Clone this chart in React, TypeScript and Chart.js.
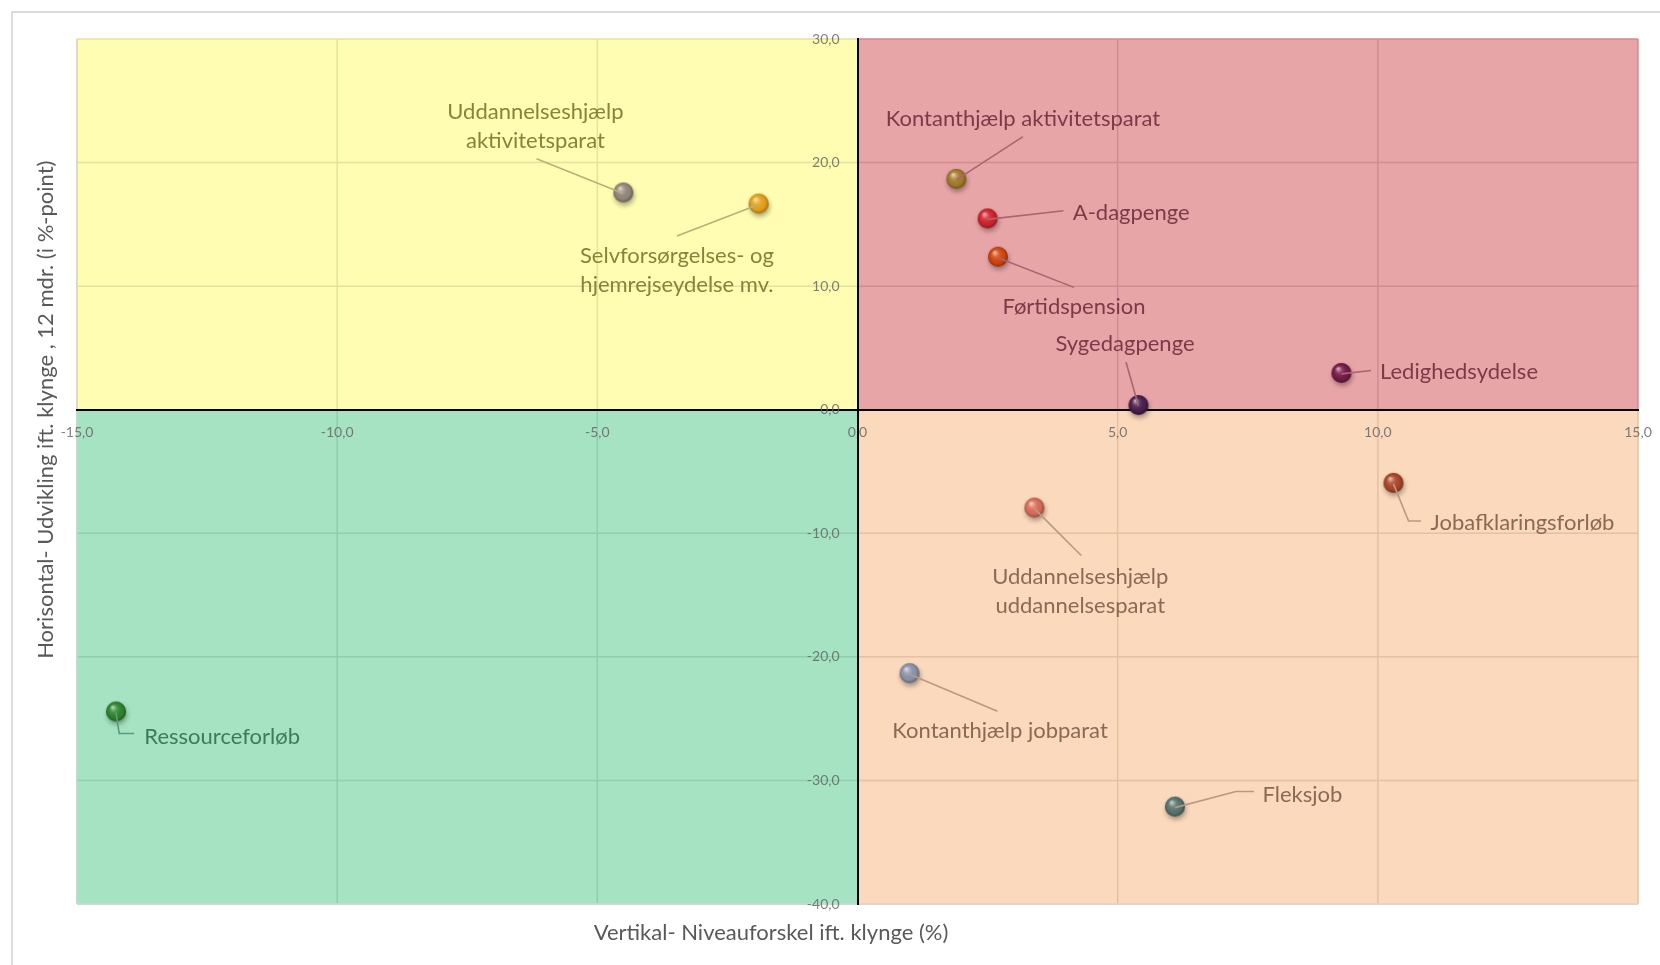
import React, { useEffect, useRef } from 'react';
import { Chart, registerables } from 'chart.js';

Chart.register(...registerables);

// ---------- data ----------
const categories = [
  'Uddannelseshjælp aktivitetsparat',
  'Selvforsørgelses- og hjemrejseydelse mv.',
  'Kontanthjælp aktivitetsparat',
  'A-dagpenge',
  'Førtidspension',
  'Sygedagpenge',
  'Ledighedsydelse',
  'Jobafklaringsforløb',
  'Uddannelseshjælp uddannelsesparat',
  'Kontanthjælp jobparat',
  'Fleksjob',
  'Ressourceforløb',
];
const xValues = [-4.5, -1.9, 1.9, 2.5, 2.7, 5.4, 9.3, 10.3, 3.4, 1.0, 6.1, -14.25];
const yValues = [17.5, 16.6, 18.6, 15.4, 12.3, 0.3, 2.9, -6.0, -8.0, -21.4, -32.2, -24.5];
const xTickValues = [-15, -10, -5, 0, 5, 10, 15];
const yTickValues = [30, 20, 10, 0, -10, -20, -30, -40];
const xTitle = 'Vertikal- Niveauforskel ift. klynge (%)';
const yTitle = 'Horisontal- Udvikling ift. klynge , 12 mdr. (i %-point)';

// ---------- styles ----------
const pointColors = [
  '#9a8b80', '#f0a61a', '#a8802c', '#d8242c', '#d8480c', '#4a2050',
  '#7a1a4a', '#b04828', '#e0705a', '#9098b0', '#5a7870', '#2e8a2e',
];
// label text lines, label centre (data units) and leader path points (data units)
const labelLines = [
  ['Uddannelseshjælp', 'aktivitetsparat'],
  ['Selvforsørgelses- og', 'hjemrejseydelse mv.'],
  ['Kontanthjælp aktivitetsparat'],
  ['A-dagpenge'],
  ['Førtidspension'],
  ['Sygedagpenge'],
  ['Ledighedsydelse'],
  ['Jobafklaringsforløb'],
  ['Uddannelseshjælp', 'uddannelsesparat'],
  ['Kontanthjælp jobparat'],
  ['Fleksjob'],
  ['Ressourceforløb'],
];
const labelAnchorX = [-6.19, -3.47, 3.18, 5.26, 4.16, 5.14, 11.56, 12.78, 4.28, 2.74, 8.55, -12.21];
const labelAnchorY = [22.9, 11.25, 23.5, 15.9, 8.3, 5.3, 3.08, -9.17, -14.74, -25.96, -31.2, -26.5];
const leaderPaths: number[][][] = [
  [[-6.17, 20.3]],
  [[-3.47, 14.05]],
  [[3.18, 22.1]],
  [[3.96, 16.1]],
  [[4.16, 9.9]],
  [[5.16, 3.86]],
  [[9.87, 3.17]],
  [[10.59, -9.0], [10.83, -9.0]],
  [[4.3, -11.8]],
  [[2.69, -24.4]],
  [[7.27, -30.9], [7.62, -30.9]],
  [[-14.19, -26.2], [-13.9, -26.2]],
];

const QUAD = {
  yellow: { fill: '#fefdb1', grid: '#e4e29e', text: '#84843c', leader: '#b3b27a' },
  red: { fill: '#e8a5a8', grid: '#d28b91', text: '#7b3a48', leader: '#a86670' },
  green: { fill: '#a6e3c3', grid: '#8ecfad', text: '#3e7a5c', leader: '#5c9a7c' },
  peach: { fill: '#fbd9bc', grid: '#e6c0a0', text: '#8a6a55', leader: '#b89a82' },
};
const FONT = 'Lato, "Open Sans", "DejaVu Sans", sans-serif';

function quadOf(x: number, y: number) {
  if (x >= 0) return y >= 0 ? QUAD.red : QUAD.peach;
  return y >= 0 ? QUAD.yellow : QUAD.green;
}

function fmt(v: number) {
  return v.toFixed(1).replace('.', ',');
}

function makeSphere(color: string): HTMLCanvasElement {
  const c = document.createElement('canvas');
  c.width = 34;
  c.height = 34;
  const g = c.getContext('2d')!;
  const cx = 17, cy = 16, r = 10;
  g.save();
  g.shadowColor = 'rgba(0,0,0,0.35)';
  g.shadowBlur = 5;
  g.shadowOffsetX = 1;
  g.shadowOffsetY = 3;
  g.beginPath();
  g.arc(cx, cy, r, 0, Math.PI * 2);
  g.fillStyle = color;
  g.fill();
  g.restore();
  const grad = g.createRadialGradient(cx - 3.5, cy - 4.5, 0.5, cx, cy, r);
  grad.addColorStop(0, 'rgba(255,255,255,0.65)');
  grad.addColorStop(0.3, 'rgba(255,255,255,0.15)');
  grad.addColorStop(0.75, 'rgba(0,0,0,0.05)');
  grad.addColorStop(1, 'rgba(0,0,0,0.35)');
  g.beginPath();
  g.arc(cx, cy, r, 0, Math.PI * 2);
  g.fillStyle = grad;
  g.fill();
  return c;
}

const quadrantPlugin = {
  id: 'quadrants',
  beforeDraw(chart: any) {
    const { ctx, chartArea: a, scales } = chart;
    const xs = scales.x, ys = scales.y;
    const x0 = xs.getPixelForValue(0);
    const y0 = ys.getPixelForValue(0);
    ctx.save();
    ctx.fillStyle = QUAD.yellow.fill;
    ctx.fillRect(a.left, a.top, x0 - a.left, y0 - a.top);
    ctx.fillStyle = QUAD.red.fill;
    ctx.fillRect(x0, a.top, a.right - x0, y0 - a.top);
    ctx.fillStyle = QUAD.green.fill;
    ctx.fillRect(a.left, y0, x0 - a.left, a.bottom - y0);
    ctx.fillStyle = QUAD.peach.fill;
    ctx.fillRect(x0, y0, a.right - x0, a.bottom - y0);
    ctx.lineWidth = 1.5;
    const seg = (x1: number, y1: number, x2: number, y2: number, col: string) => {
      ctx.strokeStyle = col;
      ctx.beginPath();
      ctx.moveTo(x1, y1);
      ctx.lineTo(x2, y2);
      ctx.stroke();
    };
    xTickValues.forEach((v) => {
      if (v === 0) return;
      const px = xs.getPixelForValue(v);
      seg(px, a.top, px, y0, v < 0 ? QUAD.yellow.grid : QUAD.red.grid);
      seg(px, y0, px, a.bottom, v < 0 ? QUAD.green.grid : QUAD.peach.grid);
    });
    yTickValues.forEach((v) => {
      if (v === 0) return;
      const py = ys.getPixelForValue(v);
      seg(a.left, py, x0, py, v > 0 ? QUAD.yellow.grid : QUAD.green.grid);
      seg(x0, py, a.right, py, v > 0 ? QUAD.red.grid : QUAD.peach.grid);
    });
    // light outer edges
    seg(a.left, a.top, a.left, a.bottom, '#d6d6d6');
    seg(a.left, a.bottom, a.right, a.bottom, '#dadada');
    ctx.restore();
  },
};

const labelPlugin = {
  id: 'pointLabels',
  afterDatasetsDraw(chart: any) {
    const { ctx, scales } = chart;
    const xs = scales.x, ys = scales.y;
    ctx.save();
    categories.forEach((_, i) => {
      const q = quadOf(xValues[i], yValues[i]);
      const px = xs.getPixelForValue(xValues[i]);
      const py = ys.getPixelForValue(yValues[i]);
      ctx.strokeStyle = q.leader;
      ctx.lineWidth = 1.6;
      ctx.beginPath();
      ctx.moveTo(px, py);
      leaderPaths[i].forEach(([lx, ly]) => ctx.lineTo(xs.getPixelForValue(lx), ys.getPixelForValue(ly)));
      ctx.stroke();
      const lines = labelLines[i];
      const cx = xs.getPixelForValue(labelAnchorX[i]);
      const cy = ys.getPixelForValue(labelAnchorY[i]);
      const lh = 29;
      ctx.fillStyle = q.text;
      ctx.font = `22px ${FONT}`;
      ctx.textAlign = 'center';
      ctx.textBaseline = 'middle';
      lines.forEach((t, k) => {
        ctx.fillText(t, cx, cy + (k - (lines.length - 1) / 2) * lh);
      });
    });
    ctx.restore();
  },
};

const titlePlugin = {
  id: 'axisTitles',
  afterDraw(chart: any) {
    const { ctx, scales } = chart;
    ctx.save();
    ctx.fillStyle = '#595959';
    ctx.font = `22px ${FONT}`;
    ctx.textAlign = 'center';
    ctx.textBaseline = 'middle';
    ctx.fillText(xTitle, 771, 933);
    ctx.translate(46, scales.y.getPixelForValue(0));
    ctx.rotate(-Math.PI / 2);
    ctx.fillText(yTitle, 0, 0);
    ctx.restore();
  },
};

const noPadX = (s: any) => {
  s.paddingLeft = 0;
  s.paddingRight = 0;
};

export default function App() {
  const ref = useRef<HTMLCanvasElement | null>(null);
  useEffect(() => {
    if (!ref.current) return;
    const spheres = pointColors.map(makeSphere);
    const chart = new Chart(ref.current, {
      type: 'scatter',
      data: {
        datasets: [
          {
            label: 'Ydelser',
            data: categories.map((_, i) => ({ x: xValues[i], y: yValues[i] })),
            pointStyle: spheres as any,
            pointRadius: 10,
            pointHoverRadius: 10,
            backgroundColor: pointColors,
            borderWidth: 0,
          },
        ],
      },
      options: {
        responsive: false,
        animation: false,
        devicePixelRatio: 1,
        layout: { padding: { left: 77, top: 39, right: 22, bottom: 61 } },
        plugins: { legend: { display: false }, tooltip: { enabled: false }, title: { display: false } },
        scales: {
          x: {
            type: 'linear',
            min: -15,
            max: 15,
            position: { y: 0 } as any,
            afterBuildTicks: (s: any) => { s.ticks = xTickValues.map((v) => ({ value: v })); },
            afterFit: noPadX,
            grid: { display: false, drawTicks: false },
            border: { display: true, color: '#000', width: 2 },
            ticks: {
              callback: (v: any) => fmt(Number(v)),
              font: { family: FONT, size: 14 },
              color: 'rgba(95,95,95,0.8)',
              padding: 14,
              maxRotation: 0,
              autoSkip: false,
            },
          },
          y: {
            type: 'linear',
            min: -40,
            max: 30,
            position: { x: 0 } as any,
            afterBuildTicks: (s: any) => { s.ticks = yTickValues.map((v) => ({ value: v })); },
            grid: { display: false, drawTicks: false },
            border: { display: true, color: '#000', width: 2 },
            ticks: {
              // trailing spaces keep the right-aligned labels clear of the centred axis line
              callback: (v: any) => fmt(Number(v)) + '     ',
              font: { family: FONT, size: 14 },
              color: 'rgba(95,95,95,0.8)',
              padding: 14,
              autoSkip: false,
            },
          },
        },
      },
      plugins: [quadrantPlugin, labelPlugin, titlePlugin],
    });
    return () => chart.destroy();
  }, []);

  return (
    <div style={{ position: 'fixed', left: 0, top: 0, width: 1660, height: 965, background: '#fff', overflow: 'hidden' }}>
      <div
        style={{
          position: 'absolute',
          left: 11,
          top: 11,
          width: 1720,
          height: 1020,
          border: '2px solid #dcdcdc',
          boxSizing: 'border-box',
        }}
      />
      <canvas ref={ref} width={1660} height={965} style={{ position: 'absolute', left: 0, top: 0, width: 1660, height: 965 }} />
    </div>
  );
}
